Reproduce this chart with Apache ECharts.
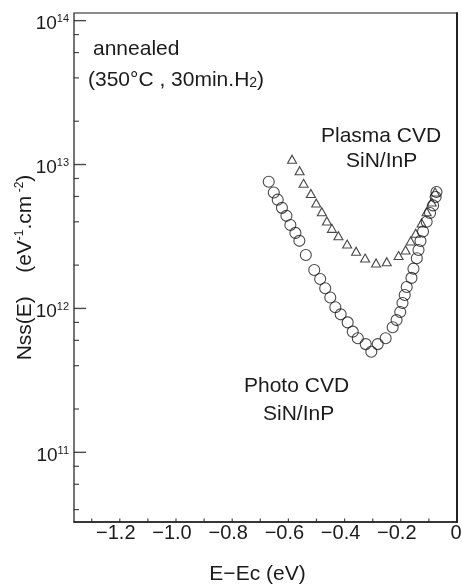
<!DOCTYPE html>
<html><head><meta charset="utf-8">
<script src="https://cdn.jsdelivr.net/npm/echarts@6/dist/echarts.min.js"></script>
<style>html,body{margin:0;padding:0;background:#fff}#c{width:462px;height:587px}</style>
</head><body><div id="c"></div>
<script>
// Photo CVD SiN/InP (circles)
const photoX = [-0.670,-0.652,-0.638,-0.623,-0.607,-0.593,-0.575,-0.561,-0.538,-0.508,-0.487,-0.469,-0.451,-0.433,-0.414,-0.389,-0.371,-0.353,-0.325,-0.305,-0.282,-0.254,-0.229,-0.215,-0.202,-0.194,-0.186,-0.179,-0.162,-0.155,-0.143,-0.137,-0.130,-0.121,-0.108,-0.096,-0.085,-0.076,-0.073];
const photoY = [7.6e12,6.4e12,5.7e12,5.0e12,4.4e12,3.8e12,3.35e12,2.95e12,2.35e12,1.85e12,1.6e12,1.38e12,1.19e12,1.02e12,9.1e11,8.0e11,6.9e11,6.2e11,5.65e11,5.0e11,5.65e11,6.2e11,7.4e11,8.3e11,9.45e11,1.09e12,1.24e12,1.41e12,1.63e12,1.89e12,2.23e12,2.55e12,2.94e12,3.42e12,4.0e12,4.6e12,5.2e12,5.95e12,6.45e12];
// Plasma CVD SiN/InP (triangles)
const plasmaX = [-0.587,-0.560,-0.546,-0.520,-0.501,-0.481,-0.463,-0.445,-0.422,-0.391,-0.359,-0.327,-0.288,-0.250,-0.208,-0.183,-0.165,-0.147,-0.126,-0.108,-0.090,-0.078];
const plasmaY = [1.09e13,9.05e12,7.4e12,6.3e12,5.4e12,4.7e12,4.05e12,3.6e12,3.2e12,2.8e12,2.5e12,2.24e12,2.07e12,2.11e12,2.33e12,2.55e12,2.94e12,3.33e12,3.93e12,4.7e12,5.5e12,6.45e12];
// axis ticks / labels
const xLabelValues = [-1.2,-1.0,-0.8,-0.6,-0.4,-0.2,0];
const xTickValues = [-1.3,-1.2,-1.1,-1.0,-0.9,-0.8,-0.7,-0.6,-0.5,-0.4,-0.3,-0.2,-0.1];
const yMajorValues = [1e11,1e12,1e13,1e14];
const yMinorValues = [4e10,6e10,8e10,2e11,4e11,6e11,8e11,2e12,4e12,6e12,8e12,2e13,4e13,6e13,8e13];

const FONT = '"Liberation Sans", Arial, sans-serif';
const INK = '#1b1b1b';
const X_MIN = -1.363, X_MAX = 0;
const Y_MIN = 3.28e10, Y_MAX = 1.13e14;

const chart = echarts.init(document.getElementById('c'), null, {renderer:'canvas'});
const zip = (xs, ys) => xs.map((x, i) => [x, ys[i]]);
const tickSeries = (name, data, size, offset) => ({
  name, type:'scatter', silent:true, clip:false, data,
  symbol:'rect', symbolSize:size, symbolOffset:offset, itemStyle:{color:INK}, z:3
});

chart.setOption({
  backgroundColor: '#ffffff',
  animation: false,
  grid: {left:74, right:5, top:13, bottom:65, show:true, borderColor:INK, borderWidth:1.2, backgroundColor:'transparent', containLabel:false, outerBoundsMode:'none'},
  xAxis: {
    type:'value', min:X_MIN, max:X_MAX,
    axisLine:{show:true, onZero:false, lineStyle:{color:INK, width:1.6}},
    axisTick:{show:false},
    axisLabel:{show:true, customValues:xLabelValues, margin:1, color:INK, fontFamily:FONT, fontSize:20,
      formatter: v => v === 0 ? '{z|0}' : '{n|\u2212' + Math.abs(v).toFixed(1) + '}',
      rich:{ n:{fontSize:20, fontFamily:FONT, color:INK, padding:[0,8,0,0]}, z:{fontSize:20, fontFamily:FONT, color:INK, padding:[0,2,0,0]} }},
    splitLine:{show:false},
    name:'E\u2212Ec (eV)', nameLocation:'middle', nameGap:42, nameMoveOverlap:false,
    nameTextStyle:{fontSize:21, fontFamily:FONT, color:INK, padding:[0,16,0,0]}
  },
  yAxis: {
    type:'log', logBase:10, min:Y_MIN, max:Y_MAX, position:'left',
    axisLine:{show:true, lineStyle:{color:INK, width:1.8}},
    axisTick:{show:false},
    axisLabel:{show:true, customValues:yMajorValues, margin:5, padding:[6,0,0,0], color:INK,
      formatter: v => '{b|10}{s|' + Math.round(Math.log10(v)) + '}',
      rich:{ b:{fontSize:19, lineHeight:20, fontFamily:FONT, color:INK}, s:{fontSize:11, lineHeight:11, fontFamily:FONT, color:INK, verticalAlign:'top'} }},
    splitLine:{show:false}, minorSplitLine:{show:false},
    name:'{a|Nss(E)    (eV}{s|-1}{a|.cm}{s| -2}{a|)}', nameLocation:'middle', nameRotate:90, nameGap:38, nameMoveOverlap:false,
    nameTextStyle:{color:INK, rich:{ a:{fontSize:21, lineHeight:22, fontFamily:FONT, color:INK}, s:{fontSize:12, lineHeight:12, fontFamily:FONT, color:INK, verticalAlign:'top'} }}
  },
  graphic: [
    {type:'text', x:93, y:49.5, style:{text:'annealed', fontSize:21, fontFamily:FONT, fill:INK, align:'left', verticalAlign:'middle'}},
    {type:'text', x:88, y:80, style:{text:'{a|(350\u00B0C , 30min.H}{s|2}{a|)}', align:'left', verticalAlign:'middle',
      rich:{a:{fontSize:21, fontFamily:FONT, fill:INK, color:INK}, s:{fontSize:14, fontFamily:FONT, fill:INK, color:INK, verticalAlign:'bottom'}}}},
    {type:'text', x:321, y:136, style:{text:'Plasma CVD', fontSize:21, fontFamily:FONT, fill:INK, align:'left', verticalAlign:'middle'}},
    {type:'text', x:346, y:161, style:{text:'SiN/InP', fontSize:21, fontFamily:FONT, fill:INK, align:'left', verticalAlign:'middle'}},
    {type:'text', x:244, y:386, style:{text:'Photo CVD', fontSize:21, fontFamily:FONT, fill:INK, align:'left', verticalAlign:'middle'}},
    {type:'text', x:263, y:414.5, style:{text:'SiN/InP', fontSize:21, fontFamily:FONT, fill:INK, align:'left', verticalAlign:'middle'}}
  ],
  series: [
    tickSeries('y major ticks', yMajorValues.map(v => [X_MIN, v]), [12,1.4], [6,0]),
    tickSeries('y minor ticks', yMinorValues.map(v => [X_MIN, v]), [5,1.2], [2.5,0]),
    tickSeries('x ticks', xTickValues.map(v => [v, Y_MIN]), [1.2,3.5], [0,-1.75]),
  {
    name:'Photo CVD SiN/InP', type:'scatter', data: zip(photoX, photoY),
    symbol:'circle', symbolSize:11,
    itemStyle:{color:'rgba(255,255,255,0)', borderColor:INK, borderWidth:1.1}
  },{
    name:'Plasma CVD SiN/InP', type:'scatter', data: zip(plasmaX, plasmaY),
    symbol:'triangle', symbolSize:[9,8],
    itemStyle:{color:'rgba(255,255,255,0)', borderColor:INK, borderWidth:1.1}
  }]
});
</script></body></html>
